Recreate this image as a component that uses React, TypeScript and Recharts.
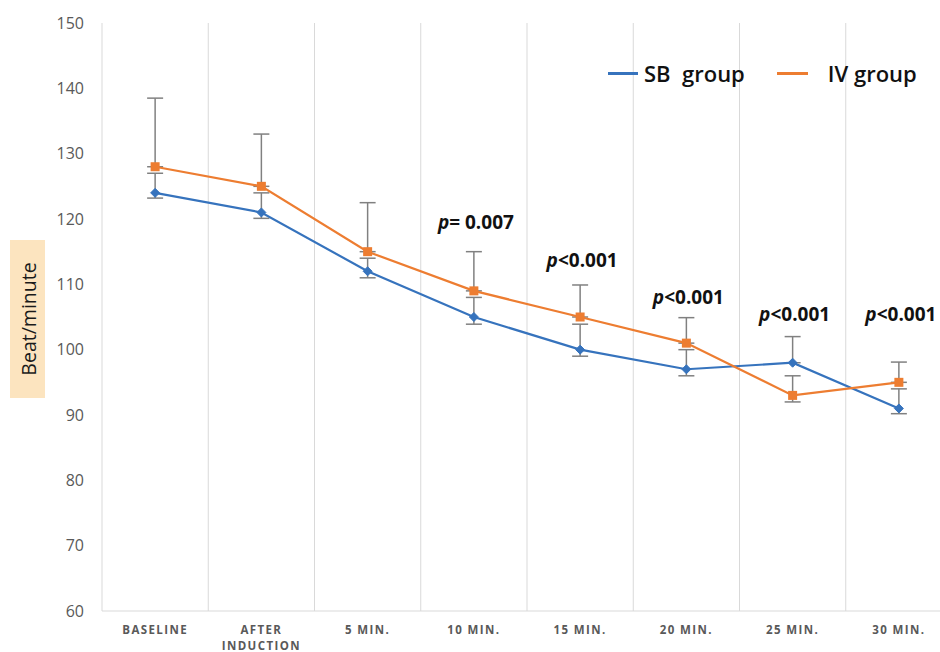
import React from 'react';
import {
  LineChart,
  Line,
  XAxis,
  YAxis,
  CartesianGrid,
  ErrorBar,
  LabelList,
} from 'recharts';

// x categories
const categories = ['BASELINE', 'AFTER INDUCTION', '5 MIN.', '10 MIN.', '15 MIN.', '20 MIN.', '25 MIN.', '30 MIN.'];

// heart rate (beat/minute)
const sbGroup = [124, 121, 112, 105, 100, 97, 98, 91];
const ivGroup = [128, 125, 115, 109, 105, 101, 93, 95];

// error bars (minus / plus)
const sbErrMinus = [0.8, 0.9, 1, 1.1, 1, 1, 0, 0.8];
const sbErrPlus = [3, 3, 2, 3, 3.9, 3, 4, 3];
const ivErrMinus = [0, 0, 0, 0, 0, 0, 1, 0];
const ivErrPlus = [10.5, 8, 7.5, 6, 4.9, 3.9, 3, 3.1];

// p-value annotations and the value level they sit at
const pTexts = ['', '', '', '= 0.007', '<0.001', '<0.001', '<0.001', '<0.001'];
const pLevels = [null, null, null, 119.6, 113.7, 108.1, 105.5, 105.5];

const yTicks = [60, 70, 80, 90, 100, 110, 120, 130, 140, 150];

const BLUE = '#3673bd';
const ORANGE = '#ed7d31';
const FONT = '"Open Sans", "Noto Sans", sans-serif';

const data = categories.map((name, i) => ({
  name,
  sb: sbGroup[i],
  iv: ivGroup[i],
  sbErr: [sbErrMinus[i], sbErrPlus[i]],
  ivErr: [ivErrMinus[i], ivErrPlus[i]],
  pText: pTexts[i],
  pLevel: pLevels[i],
}));

const Diamond = (props: any) => {
  const { cx, cy } = props;
  if (cx == null || cy == null) return null;
  const r = 4.5;
  return (
    <polygon
      points={`${cx},${cy - r} ${cx + r},${cy} ${cx},${cy + r} ${cx - r},${cy}`}
      fill={BLUE}
      stroke={BLUE}
    />
  );
};

const Square = (props: any) => {
  const { cx, cy } = props;
  if (cx == null || cy == null) return null;
  return <rect x={cx - 4.5} y={cy - 4.5} width={9} height={9} fill={ORANGE} />;
};

const XTick = (props: any) => {
  const { x, y, payload } = props;
  const words = payload.value === 'AFTER INDUCTION' ? ['AFTER', 'INDUCTION'] : [payload.value];
  return (
    <text
      x={x}
      y={y}
      textAnchor="middle"
      fill="#595959"
      fontSize={11.5}
      fontWeight={700}
      letterSpacing={1.4}
      fontFamily={FONT}
    >
      {words.map((w: string, i: number) => (
        <tspan key={w} x={x} dy={i === 0 ? 23 : 16}>
          {w}
        </tspan>
      ))}
    </text>
  );
};

const YLabel = () => (
  <g>
    <rect x={10} y={240} width={35} height={158} fill="#fce4bf" />
    <text
      x={0}
      y={0}
      transform="translate(28,319) rotate(-90)"
      textAnchor="middle"
      dominantBaseline="central"
      fontSize={19.5}
      fontFamily={FONT}
      fill="#1a1a1a"
    >
      Beat/minute
    </text>
  </g>
);

const PLabel = (props: any) => {
  const { x, y, value } = props;
  if (!value) return null;
  return (
    <text
      x={x + 2}
      y={y}
      textAnchor="middle"
      dominantBaseline="central"
      fontSize={19}
      fontWeight={700}
      fontFamily={FONT}
      fill="#111"
    >
      <tspan fontStyle="italic">p</tspan>
      {value}
    </text>
  );
};

const LegendBox = () => (
  <div
    style={{
      position: 'absolute',
      left: 608,
      top: 58,
      display: 'flex',
      alignItems: 'center',
      fontFamily: FONT,
      fontSize: 22,
      fontWeight: 600,
      color: '#111',
    }}
  >
    <span style={{ width: 30, height: 3, background: BLUE, marginRight: 6 }} />
    <span style={{ whiteSpace: 'pre' }}>SB  group</span>
    <span style={{ width: 31, height: 3, background: ORANGE, marginLeft: 32, marginRight: 20 }} />
    <span>IV group</span>
  </div>
);

export default function App() {
  return (
    <div
      style={{
        position: 'absolute',
        left: 0,
        top: 0,
        width: 940,
        height: 652,
        overflow: 'hidden',
        background: '#fff',
      }}
    >
      <LineChart width={960} height={652} data={data} margin={{ top: 23, right: 8, bottom: 0, left: 0 }}>
        <CartesianGrid
          horizontal={false}
          stroke="#d9d9d9"
          verticalCoordinatesGenerator={({ offset }: any) =>
            Array.from({ length: categories.length + 1 }, (_, i) => offset.left + (i * offset.width) / categories.length)
          }
        />
        <XAxis
          dataKey="name"
          scale="band"
          interval={0}
          height={41}
          tickLine={false}
          tickSize={0}
          tickMargin={0}
          axisLine={{ stroke: '#d9d9d9' }}
          tick={<XTick />}
        />
        <YAxis
          width={102}
          domain={[60, 150]}
          ticks={yTicks}
          axisLine={false}
          tickLine={false}
          tickSize={0}
          tickMargin={18}
          tick={{ fill: '#595959', fontSize: 16, fontFamily: FONT }}
          label={<YLabel />}
        />
        <Line
          dataKey="sb"
          name="SB group"
          stroke={BLUE}
          strokeWidth={2.2}
          dot={<Diamond />}
          activeDot={false}
          isAnimationActive={false}
        >
          <ErrorBar dataKey="sbErr" width={8} stroke="#808080" strokeWidth={1.5} direction="y" />
        </Line>
        <Line
          dataKey="iv"
          name="IV group"
          stroke={ORANGE}
          strokeWidth={2.2}
          dot={<Square />}
          activeDot={false}
          isAnimationActive={false}
        >
          <ErrorBar dataKey="ivErr" width={8} stroke="#808080" strokeWidth={1.5} direction="y" />
        </Line>
        <Line
          dataKey="pLevel"
          stroke="none"
          dot={false}
          activeDot={false}
          legendType="none"
          isAnimationActive={false}
        >
          <LabelList dataKey="pText" content={<PLabel />} />
        </Line>
      </LineChart>
      <LegendBox />
    </div>
  );
}
